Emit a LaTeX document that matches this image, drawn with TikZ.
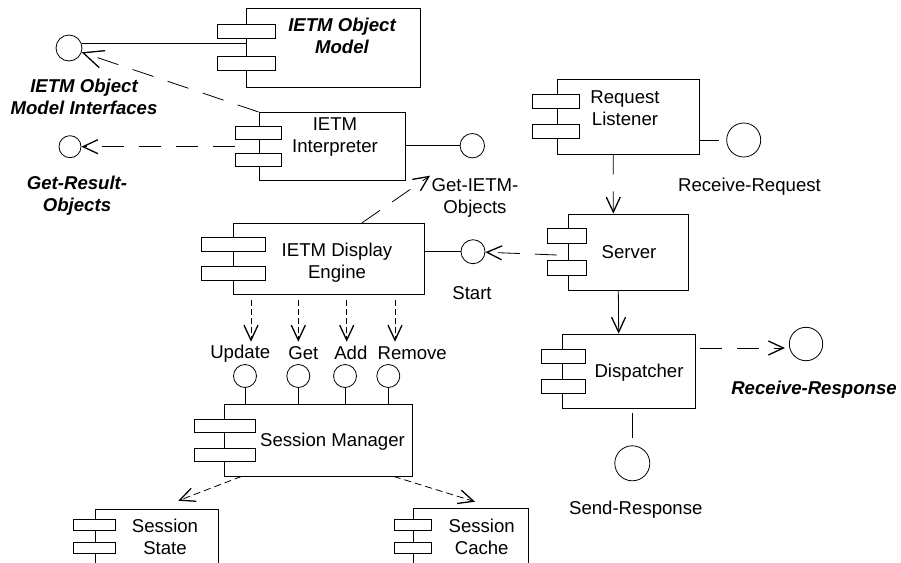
\documentclass[tikz,border=0pt]{standalone}
\usepackage{fontspec}
\setmainfont{Liberation Sans}
\usetikzlibrary{arrows.meta,calc}
\begin{document}
\begin{tikzpicture}[x=1pt,y=-1pt,
 comp/.style={draw, line width=0.8pt, fill=white, inner sep=0pt, rectangle},
 tab/.style={draw, line width=0.8pt, fill=white, inner sep=0pt, rectangle, minimum height=14pt},
 ifc/.style={draw, circle, line width=0.8pt, inner sep=0pt},
 lbl/.style={inner sep=0pt, align=center, font=\fontsize{18.6}{22}\selectfont},
 blbl/.style={inner sep=0pt, align=center, font=\fontsize{18.6}{22}\selectfont\bfseries\itshape},
 conn/.style={line width=0.8pt},
 longdash/.style={conn, dash pattern=on 22pt off 15pt},
 shortdash/.style={conn, dash pattern=on 6pt off 3pt},
 shortdashb/.style={conn, dash pattern=on 7pt off 4pt},
 tip/.style={-{Straight Barb[length=15pt,width=14pt,line width=1.3pt]}},
 bigtip/.style={-{Straight Barb[length=20pt,width=18pt,line width=1.3pt]}}
]
\fill[white] (0,0) rectangle (901,562);
\useasboundingbox (0,0) rectangle (901,562);
\clip (0,0) rectangle (901,562);

% IETM Object Model
\node[comp, minimum width=173.3pt, minimum height=79.4pt] (om) at (333.3,48) {};
\node[tab, minimum width=57.3pt] (om-r1) at (246.3,31.3) {};
\node[tab, minimum width=57.3pt] (om-r2) at (246.3,63.7) {};
\node[blbl] (om-t) at (342,36) {IETM Object\\Model};

% IETM Interpreter
\node[comp, minimum width=146.7pt, minimum height=67.7pt] (in) at (332.3,146.2) {};
\node[tab, minimum width=46.7pt, minimum height=13.3pt] (in-r1) at (258.3,132.7) {};
\node[tab, minimum width=46.7pt, minimum height=13.3pt] (in-r2) at (258.3,160) {};
\node[lbl] (in-t) at (335,137) {IETM\\Interpreter};

% IETM Display Engine
\node[comp, minimum width=191pt, minimum height=70.7pt] (de) at (328.8,258.7) {};
\node[tab, minimum width=63.3pt] (de-r1) at (233.3,244.2) {};
\node[tab, minimum width=63.3pt] (de-r2) at (233.3,273) {};
\node[lbl] (de-t) at (337,262.5) {IETM Display\\Engine};

% Request Listener
\node[comp, minimum width=141.7pt, minimum height=74.7pt] (rl) at (628.2,116.7) {};
\node[tab, minimum width=47pt] (rl-r1) at (555.8,101.3) {};
\node[tab, minimum width=47pt] (rl-r2) at (555.8,131.5) {};
\node[lbl] (rl-t) at (625,108) {Request\\Listener};

% Server
\node[comp, minimum width=120pt, minimum height=76pt] (sv) at (628.3,252) {};
\node[tab, minimum width=39.4pt, minimum height=15pt] (sv-r1) at (567,235.8) {};
\node[tab, minimum width=39.4pt, minimum height=15pt] (sv-r2) at (567,267.5) {};
\node[lbl] (sv-t) at (629,251.7) {Server};

% Dispatcher
\node[comp, minimum width=132.7pt, minimum height=74.3pt] (dp) at (628.7,371.2) {};
\node[tab, minimum width=43.3pt] (dp-r1) at (563.3,356.3) {};
\node[tab, minimum width=43.3pt] (dp-r2) at (563.3,386.3) {};
\node[lbl] (dp-t) at (639,372.7) {Dispatcher};

% Session Manager
\node[comp, minimum width=188.3pt, minimum height=71.7pt] (sm) at (318.2,440.2) {};
\node[tab, minimum width=61.7pt, minimum height=13pt] (sm-r1) at (224.9,425.8) {};
\node[tab, minimum width=61.7pt, minimum height=13pt] (sm-r2) at (224.9,454.8) {};
\node[lbl] (sm-t) at (332.5,441.7) {Session Manager};

% Session State
\node[comp, minimum width=122.6pt, minimum height=76pt] (ss) at (157,547) {};
\node[tab, minimum width=41.7pt, minimum height=11pt] (ss-r1) at (94.2,525.3) {};
\node[tab, minimum width=41.7pt, minimum height=11pt] (ss-r2) at (94.2,548) {};
\node[lbl] (ss-t) at (165,537) {Session\\State};

% Session Cache
\node[comp, minimum width=115pt, minimum height=76pt] (sc) at (470.8,546.7) {};
\node[tab, minimum width=37.4pt, minimum height=11pt] (sc-r1) at (413,525.3) {};
\node[tab, minimum width=37.4pt, minimum height=11pt] (sc-r2) at (413,548) {};
\node[lbl] (sc-t) at (481.7,537) {Session\\Cache};

% interface circles
\node[ifc, minimum size=26pt] (ifcom) at (69,48) {};
\node[ifc, minimum size=22pt] (grc) at (70,146.7) {};
\node[ifc, minimum size=24.4pt] (gic) at (472.3,145.7) {};
\node[ifc, minimum size=24pt] (stc) at (473,251.7) {};
\node[ifc, minimum size=34pt] (rrc) at (743.7,140) {};
\node[ifc, minimum size=33.4pt] (rsc) at (806,344) {};
\node[ifc, minimum size=35pt] (src) at (632.3,463.3) {};
\node[ifc, minimum size=23pt] (upc) at (245,376) {};
\node[ifc, minimum size=23pt] (gtc) at (298.3,376) {};
\node[ifc, minimum size=23pt] (adc) at (345,376) {};
\node[ifc, minimum size=23pt] (rmc) at (388.3,376) {};

% labels
\node[blbl] (ifcom-l) at (84,97) {IETM Object\\Model Interfaces};
\node[blbl] (grc-l) at (77,196) {Get-Result-\\Objects};
\node[lbl] (gic-l) at (475,197.5) {Get-IETM-\\Objects};
\node[lbl] (stc-l) at (472,293) {Start};
\node[lbl] (rrc-l) at (749.5,186.7) {Receive-Request};
\node[blbl] (rsc-l) at (814,389.3) {Receive-Response};
\node[lbl] (src-l) at (635.8,509.3) {Send-Response};
\node[lbl] (upc-l) at (240.3,353.3) {Update};
\node[lbl] (gtc-l) at (303.3,353.3) {Get};
\node[lbl] (adc-l) at (350.8,353.3) {Add};
\node[lbl] (rmc-l) at (412.2,353.3) {Remove};

% connectors
\draw[conn] (ifcom.20) -- (ifcom.20 -| om.west);
\draw[longdash, bigtip] (in.north west) -- (ifcom);
\draw[longdash, tip] (in-r1.west |- grc) -- (grc);
\draw[conn] (in.east |- gic) -- (gic);
\coordinate (gitip) at (430,175.7);
\draw[longdash, tip] ($(de.north)+(33,0)$) -- (gitip);
\draw[conn] (de.east |- stc) -- (stc);
\draw[longdash, tip] ($(sv.west)+(-11,3)$) -- (stc);
\draw[conn, shorten >=7pt] (rl.east |- rrc) -- (rrc);
\draw[conn, dash pattern=on 20pt off 17pt, tip] ($(rl.south)+(-15,0)$) -- ($(sv.north)+(-15,0)$);
\draw[conn, tip] ($(sv.south)+(-10,0)$) -- ($(dp.north)+(-10,0)$);
\draw[longdash, tip] ($(dp.east)+(5,-23.2)$) -- ($(rsc.west)+(-4,4)$);
\draw[conn, shorten <=4pt, shorten >=7pt] (dp.south -| src) -- (src);

\coordinate (upa) at (251,341.7);
\coordinate (gta) at (298.3,341.7);
\coordinate (ada) at (346.7,341.7);
\coordinate (rma) at (395,341.7);
\draw[shortdash, tip, shorten <=6pt] (de.south -| upa) -- (upa);
\draw[shortdash, tip, shorten <=6pt] (de.south -| gta) -- (gta);
\draw[shortdash, tip, shorten <=6pt] (de.south -| ada) -- (ada);
\draw[shortdash, tip, shorten <=6pt] (de.south -| rma) -- (rma);

\draw[conn] (upc.south) -- (upc.south |- sm.north);
\draw[conn] (gtc.south) -- (gtc.south |- sm.north);
\draw[conn] (adc.south) -- (adc.south |- sm.north);
\draw[conn] (rmc.south) -- (rmc.south |- sm.north);

\coordinate (sstip) at (178.3,500.7);
\coordinate (sctip) at (475,501.7);
\draw[shortdashb, tip] ($(sm.south west)+(17.7,0)$) -- (sstip);
\draw[shortdashb, tip] ($(sm.south east)+(-19,0)$) -- (sctip);
\end{tikzpicture}
\end{document}
